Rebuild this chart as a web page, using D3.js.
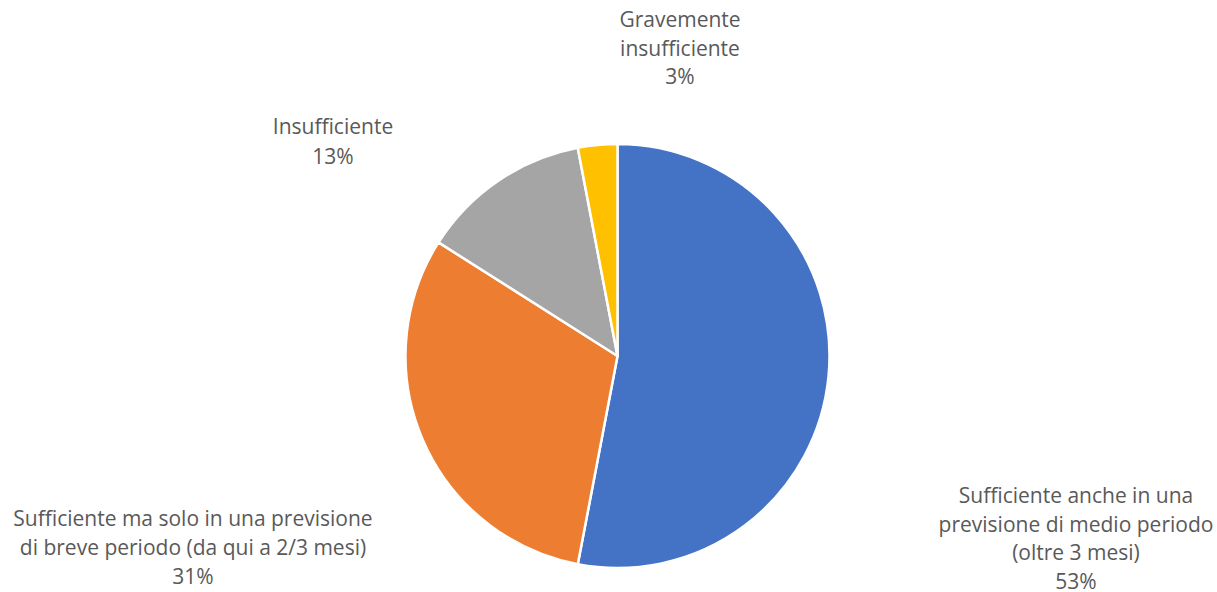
<!DOCTYPE html>
<html>
<head>
<meta charset="utf-8">
<script src="https://cdn.jsdelivr.net/npm/d3@7"></script>
<style>
  html, body { margin: 0; padding: 0; background: #fff; }
  svg { display: block; }
</style>
</head>
<body>
<svg id="chart" width="1217" height="592"></svg>
<script>
// Data
const categories = [
  "Sufficiente anche in una previsione di medio periodo (oltre 3 mesi)",
  "Sufficiente ma solo in una previsione di breve periodo (da qui a 2/3 mesi)",
  "Insufficiente",
  "Gravemente insufficiente"
];
const values = [53, 31, 13, 3];
const labelLines = [
  ["Sufficiente anche in una", "previsione di medio periodo", "(oltre 3 mesi)"],
  ["Sufficiente ma solo in una previsione", "di breve periodo (da qui a 2/3 mesi)"],
  ["Insufficiente"],
  ["Gravemente", "insufficiente"]
];
const colors = ["#4472C4", "#ED7D31", "#A5A5A5", "#FFC000"];

// Layout (label block centers: x, first line baseline y, line height)
const labelLayout = [
  {x: 1076, y: 503, lh: 28.5},
  {x: 193, y: 526, lh: 29},
  {x: 333, y: 134, lh: 29.5},
  {x: 680, y: 27, lh: 28.5}
];

const svg = d3.select("#chart");
const cx = 617.5, cy = 356, r = 212;

const pie = d3.pie().sort(null).value(d => d)(values);
const arc = d3.arc().innerRadius(0).outerRadius(r);

const g = svg.append("g").attr("transform", `translate(${cx},${cy})`);
g.selectAll("path")
  .data(pie)
  .join("path")
  .attr("d", arc)
  .attr("fill", (d, i) => colors[i])
  .attr("stroke", "#fff")
  .attr("stroke-width", 2.5)
  .attr("stroke-linejoin", "round");

const total = d3.sum(values);
const fmt = d3.format(".0%");

labelLayout.forEach((p, i) => {
  const lines = labelLines[i].concat([fmt(values[i] / total)]);
  const t = svg.append("text")
    .attr("text-anchor", "middle")
    .attr("font-family", "'Open Sans', sans-serif")
    .attr("font-size", 21)
    .attr("fill", "#595959");
  lines.forEach((ln, k) => {
    t.append("tspan").attr("x", p.x).attr("y", p.y + k * p.lh).text(ln);
  });
});
</script>
</body>
</html>
